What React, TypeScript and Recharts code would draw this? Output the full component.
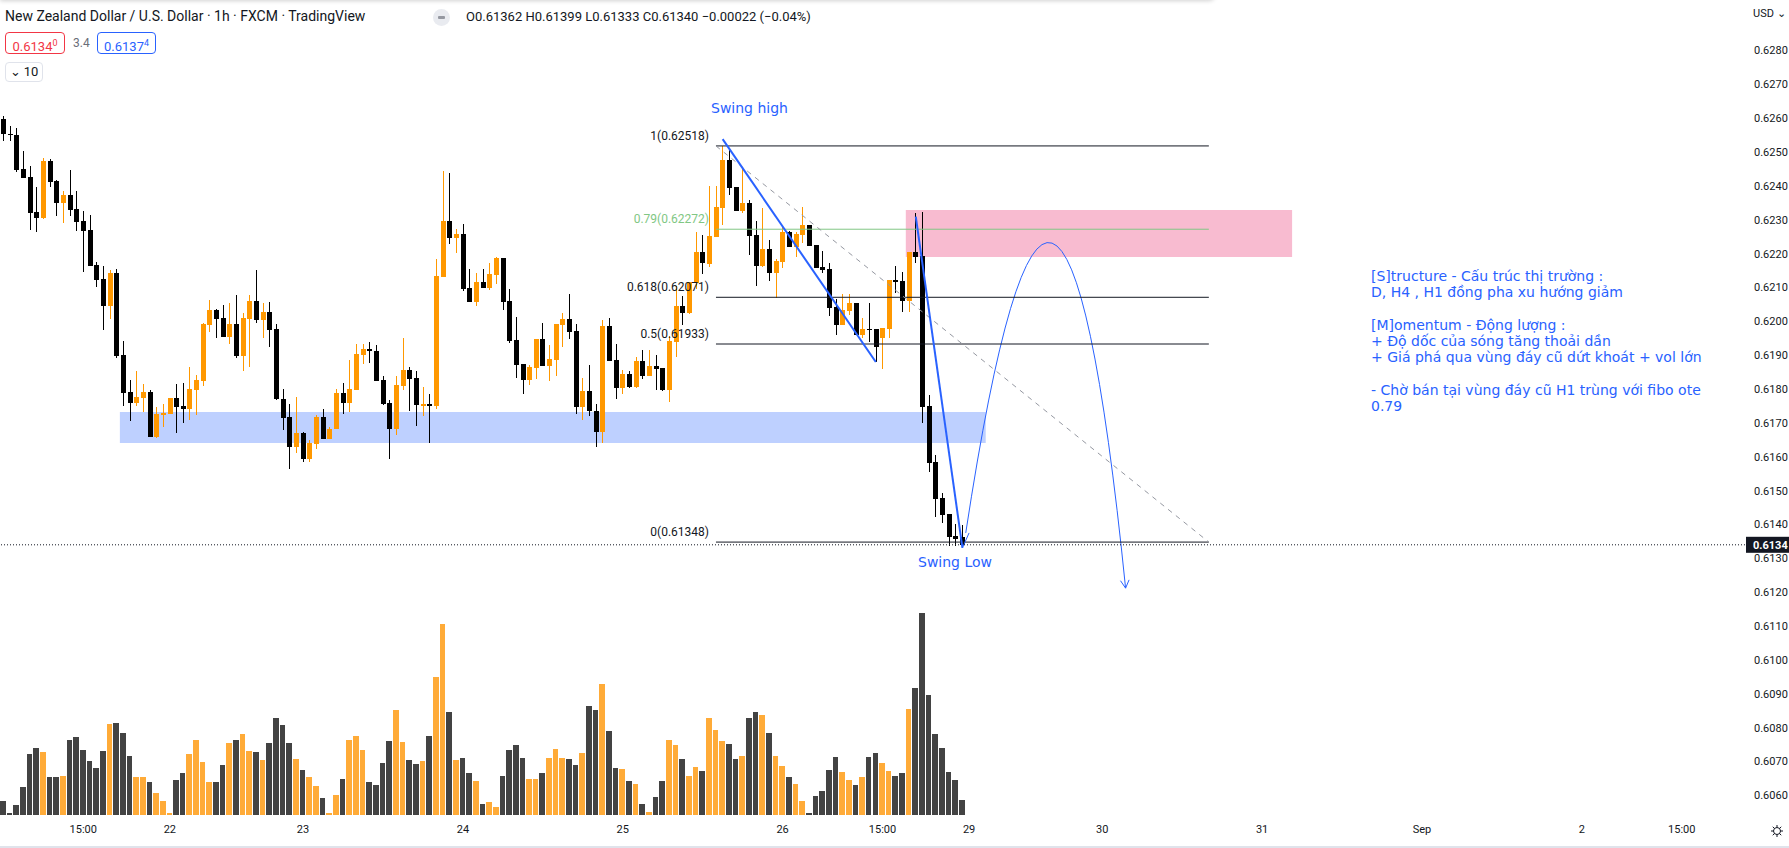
import React from "react";
import {
  ComposedChart,
  Bar,
  XAxis,
  YAxis,
  ReferenceLine,
  ReferenceArea,
} from "recharts";

// NZDUSD 1h candles
const opens = [
  0.62599, 0.62554, 0.62551, 0.62451, 0.62427, 0.62324, 0.62306, 0.62474, 0.62415, 0.6235,
  0.62374, 0.62332, 0.62297, 0.6227, 0.62167, 0.62125, 0.62045, 0.62143, 0.619, 0.61791,
  0.61758, 0.61773, 0.61791, 0.61658, 0.61723, 0.61726, 0.61773, 0.61749, 0.6174, 0.61797,
  0.61823, 0.61989, 0.62033, 0.6201, 0.61953, 0.61992, 0.61897, 0.62007, 0.6206, 0.62004,
  0.62027, 0.61977, 0.6177, 0.61717, 0.61628, 0.61669, 0.61592, 0.61637, 0.61717, 0.61652,
  0.61681, 0.61788, 0.61758, 0.61797, 0.619, 0.61918, 0.61912, 0.61826, 0.61758, 0.61681,
  0.61808, 0.61856, 0.61832, 0.61749, 0.61755, 0.61749, 0.62131, 0.62297, 0.62246, 0.62258,
  0.62099, 0.62057, 0.62116, 0.62099, 0.62137, 0.62187, 0.6206, 0.61945, 0.61874, 0.61826,
  0.61862, 0.61948, 0.61868, 0.61885, 0.61989, 0.62007, 0.61971, 0.61746, 0.61794, 0.61734,
  0.61672, 0.61986, 0.61885, 0.61803, 0.61844, 0.61806, 0.61882, 0.61838, 0.61868, 0.61862,
  0.61797, 0.61939, 0.62045, 0.62024, 0.62113, 0.62205, 0.62169, 0.62249, 0.62335, 0.62477,
  0.62398, 0.62326, 0.6235, 0.62255, 0.62164, 0.62214, 0.62143, 0.62175, 0.62264, 0.6222,
  0.62255, 0.62285, 0.62226, 0.62161, 0.62155, 0.62042, 0.61989, 0.6203, 0.62054, 0.61959,
  0.61977, 0.61977, 0.61951, 0.61977, 0.62122, 0.62119, 0.6206, 0.62205, 0.62193, 0.61749,
  0.61586, 0.61477, 0.6143, 0.61365, 0.61362,
];
const highs = [
  0.62605, 0.62578, 0.62572, 0.62504, 0.6246, 0.62398, 0.62483, 0.6248, 0.62418, 0.62386,
  0.62448, 0.62386, 0.62326, 0.62315, 0.62175, 0.62164, 0.62152, 0.62155, 0.61942, 0.61826,
  0.61853, 0.61814, 0.61797, 0.61746, 0.61755, 0.61773, 0.61814, 0.61817, 0.61865, 0.61841,
  0.61995, 0.62063, 0.62036, 0.62048, 0.62054, 0.62078, 0.62024, 0.62078, 0.62152, 0.62054,
  0.62057, 0.61992, 0.618, 0.61755, 0.61776, 0.61672, 0.61649, 0.61723, 0.6174, 0.61687,
  0.618, 0.61817, 0.61885, 0.61933, 0.61933, 0.61939, 0.6193, 0.61838, 0.61767, 0.61838,
  0.61951, 0.61865, 0.61853, 0.61806, 0.61785, 0.62184, 0.62445, 0.62439, 0.62273, 0.62288,
  0.62155, 0.62143, 0.62155, 0.62172, 0.6219, 0.62187, 0.62096, 0.62013, 0.61874, 0.61871,
  0.61948, 0.61995, 0.6193, 0.61992, 0.62024, 0.62081, 0.61992, 0.61832, 0.61871, 0.61755,
  0.62004, 0.6201, 0.61933, 0.61856, 0.61853, 0.61894, 0.61915, 0.61915, 0.619, 0.61862,
  0.61956, 0.62105, 0.62075, 0.62116, 0.62264, 0.62255, 0.624, 0.624, 0.62518, 0.62507,
  0.62398, 0.62451, 0.62359, 0.62297, 0.62335, 0.62241, 0.62184, 0.62282, 0.62267, 0.62264,
  0.62338, 0.62285, 0.62226, 0.62208, 0.62172, 0.62066, 0.62081, 0.62081, 0.62054, 0.6201,
  0.62054, 0.61977, 0.6198, 0.62122, 0.62164, 0.62146, 0.62205, 0.62321, 0.62324, 0.61782,
  0.61604, 0.61492, 0.6143, 0.614, 0.61399,
];
const lows = [
  0.62534, 0.62534, 0.62442, 0.62424, 0.6227, 0.62264, 0.62303, 0.62398, 0.62312, 0.62291,
  0.62312, 0.62267, 0.62146, 0.62164, 0.62101, 0.61974, 0.62007, 0.61891, 0.61749, 0.61705,
  0.61749, 0.61731, 0.61658, 0.61655, 0.61687, 0.61726, 0.6167, 0.61699, 0.61708, 0.61723,
  0.61808, 0.61968, 0.61951, 0.61953, 0.61933, 0.61891, 0.61853, 0.61865, 0.61995, 0.61951,
  0.61924, 0.61767, 0.61678, 0.61563, 0.6161, 0.61586, 0.61586, 0.61622, 0.61652, 0.61652,
  0.61681, 0.61726, 0.61731, 0.61797, 0.61874, 0.61877, 0.61823, 0.61752, 0.61592, 0.61663,
  0.61797, 0.61734, 0.6169, 0.6172, 0.6164, 0.6174, 0.62131, 0.62229, 0.62202, 0.6209,
  0.62057, 0.62045, 0.62099, 0.62093, 0.6211, 0.62033, 0.61936, 0.61832, 0.61785, 0.61811,
  0.61829, 0.61868, 0.61823, 0.61838, 0.61924, 0.61948, 0.61726, 0.61708, 0.6172, 0.61628,
  0.6164, 0.61882, 0.6177, 0.61785, 0.61803, 0.61803, 0.61829, 0.61838, 0.61797, 0.61794,
  0.61761, 0.61894, 0.61989, 0.62021, 0.62096, 0.6214, 0.62161, 0.62249, 0.62285, 0.62374,
  0.62326, 0.62321, 0.62196, 0.62105, 0.62161, 0.62119, 0.62069, 0.62158, 0.6222, 0.6219,
  0.62232, 0.62223, 0.62158, 0.62143, 0.62016, 0.61959, 0.61989, 0.62019, 0.61959, 0.61951,
  0.61939, 0.61879, 0.61859, 0.61951, 0.62084, 0.62027, 0.62027, 0.62172, 0.61699, 0.61554,
  0.61421, 0.61403, 0.61335, 0.61335, 0.61333,
];
const closes = [
  0.62554, 0.62551, 0.62448, 0.62424, 0.62321, 0.62306, 0.62474, 0.62412, 0.6235, 0.62374,
  0.62329, 0.62294, 0.62267, 0.62164, 0.62122, 0.62045, 0.62143, 0.61897, 0.61788, 0.61758,
  0.61776, 0.61791, 0.61658, 0.61726, 0.61729, 0.61773, 0.61746, 0.6174, 0.618, 0.61826,
  0.61992, 0.62033, 0.62007, 0.61953, 0.61992, 0.61897, 0.6201, 0.6206, 0.62004, 0.62027,
  0.61974, 0.6177, 0.61714, 0.61628, 0.61669, 0.61592, 0.6164, 0.61717, 0.61652, 0.61681,
  0.61788, 0.61758, 0.618, 0.61903, 0.61918, 0.61912, 0.61823, 0.61755, 0.61681, 0.61811,
  0.61856, 0.61829, 0.61752, 0.61755, 0.61749, 0.62134, 0.62297, 0.62246, 0.62258, 0.62096,
  0.62057, 0.62116, 0.62099, 0.6214, 0.62187, 0.62057, 0.61942, 0.61871, 0.61826, 0.61865,
  0.61948, 0.61868, 0.61888, 0.61992, 0.62007, 0.61968, 0.61746, 0.61794, 0.61734, 0.61672,
  0.61986, 0.61882, 0.61803, 0.61844, 0.61806, 0.61882, 0.61838, 0.61868, 0.61859, 0.61797,
  0.61942, 0.62045, 0.62024, 0.62116, 0.62205, 0.62172, 0.62252, 0.62338, 0.62477, 0.62395,
  0.62326, 0.6235, 0.62252, 0.62164, 0.62214, 0.62143, 0.62178, 0.62264, 0.6222, 0.62258,
  0.62285, 0.62223, 0.62158, 0.62152, 0.62039, 0.61989, 0.62033, 0.62054, 0.61959, 0.61977,
  0.61974, 0.61924, 0.6198, 0.62122, 0.62116, 0.6206, 0.62205, 0.6219, 0.61746, 0.61583,
  0.61474, 0.61427, 0.61362, 0.61356, 0.6134,
];
// volume bar heights (same scale as the picture, px of the pane)
const volumes = [
  14, 2, 10, 28, 61, 67, 63, 38, 38, 39, 75, 78, 65, 54, 47, 64, 91, 92, 82, 59,
  38, 38, 33, 22, 14, 2, 35, 42, 61, 75, 53, 33, 33, 50, 72, 75, 81, 64, 63, 55,
  72, 97, 90, 72, 56, 45, 38, 29, 17, 2, 20, 36, 75, 79, 65, 33, 30, 52, 74, 105,
  73, 55, 51, 54, 79, 138, 191, 103, 55, 57, 42, 34, 11, 13, 8, 39, 65, 70, 57, 36,
  36, 42, 57, 66, 57, 56, 50, 62, 109, 105, 131, 84, 47, 46, 34, 31, 11, 3, 18, 34,
  75, 70, 56, 39, 48, 44, 97, 85, 74, 71, 56, 59, 97, 103, 100, 82, 59, 49, 38, 31,
  14, 2, 19, 24, 45, 58, 43, 35, 30, 38, 58, 62, 52, 44, 39, 42, 106, 127, 202, 120,
  81, 67, 43, 35, 15,
];

const slotCount = 262; // candles + empty future space
const tickSlots = [12, 25, 45, 69, 93, 117, 132, 145, 165, 189, 213, 237, 252];
const tickLabels = ["15:00", "22", "23", "24", "25", "26", "15:00", "29", "30", "31", "Sep", "2", "15:00"];
const priceTicks = [
  0.606, 0.607, 0.608, 0.609, 0.61, 0.611, 0.612, 0.613, 0.614, 0.615, 0.616, 0.617,
  0.618, 0.619, 0.62, 0.621, 0.622, 0.623, 0.624, 0.625, 0.626, 0.627, 0.628,
];
const fibLevels = [1, 0.79, 0.618, 0.5, 0];
const fibPrices = [0.62518, 0.62272, 0.62071, 0.61933, 0.61348];

const notes = [
  "[S]tructure - Cấu trúc thị trường :",
  "D, H4 , H1 đồng pha xu hướng giảm",
  "",
  "[M]omentum - Động lượng :",
  "+ Độ dốc của sóng tăng thoải dần",
  "+ Giá phá qua vùng đáy cũ dứt khoát + vol lớn",
  "",
  "- Chờ bán tại vùng đáy cũ H1 trùng với fibo ote",
  "0.79",
];

const W = 1789;
const H = 848;
const BLUE = "#2962FF";
const INK = "#131722";

const rows = Array.from({ length: slotCount }, (_, i) =>
  i < opens.length
    ? { t: i, o: opens[i], h: highs[i], l: lows[i], c: closes[i], v: volumes[i] }
    : { t: i }
);

const lastClose = closes[closes.length - 1];

const CandleShape = (props: any) => {
  const { x, y, width, height, payload } = props;
  if (!payload || payload.h === undefined) return null;
  const { o, h, l, c } = payload;
  const span = h - l;
  const py = (v: number) => (span > 0 ? y + ((h - v) / span) * height : y);
  const color = c >= o ? "#FF9800" : "#000000";
  const bx = Math.round(x);
  const bw = Math.round(width);
  const wx = bx + Math.floor(bw / 2);
  const top = Math.round(py(Math.max(o, c)));
  const bot = Math.round(py(Math.min(o, c)));
  const wt = Math.round(y);
  const wb = Math.round(y + height);
  return (
    <g>
      <rect x={wx} y={wt} width={1} height={Math.max(1, wb - wt)} fill={color} />
      <rect x={bx} y={top} width={bw} height={Math.max(1, bot - top)} fill={color} />
    </g>
  );
};

const VolumeShape = (props: any) => {
  const { x, y, width, height, payload } = props;
  if (!payload || payload.v === undefined) return null;
  const left = Math.round(x);
  const right = Math.round(x + width + 0.66) - 1;
  const top = Math.round(y);
  const bot = Math.round(y + height);
  return (
    <rect
      x={left}
      y={top}
      width={right - left}
      height={Math.max(1, bot - top)}
      fill={payload.c >= payload.o ? "#FFAB38" : "#434343"}
    />
  );
};

const FibLabel = (props: any) => {
  const { viewBox, text, color } = props;
  if (!viewBox) return null;
  return (
    <text x={viewBox.x - 7} y={viewBox.y - 6} textAnchor="end" fontSize={12} fontFamily="Roboto" fill={color}>
      {text}
    </text>
  );
};

const PriceTag = (props: any) => {
  const { viewBox } = props;
  if (!viewBox) return null;
  const xx = viewBox.x + viewBox.width;
  return (
    <g>
      <rect x={xx + 1} y={viewBox.y - 8} width={44} height={16} fill={INK} />
      <text x={xx + 8} y={viewBox.y + 4} fill="#fff" fontSize={11} fontWeight="bold" fontFamily="Roboto">
        {lastClose.toFixed(4)}
      </text>
    </g>
  );
};

// hand-drawn arc projection inside its bounding box
const arcStartFrac = 0.84;
const arcPeakFrac = 0.54;
const ArcShape = (props: any) => {
  const { x, y, width, height } = props;
  const x0 = x;
  const y0 = y + height * arcStartFrac;
  const x2 = x + width;
  const y2 = y + height;
  const xp = x + width * arcPeakFrac;
  const cx = 2 * xp - (x0 + x2) / 2;
  const cy = 2 * y - (y0 + y2) / 2;
  const dx = x2 - cx;
  const dy = y2 - cy;
  const len = Math.sqrt(dx * dx + dy * dy);
  const ux = dx / len;
  const uy = dy / len;
  const a = 0.5;
  const r = 9;
  const ax1 = x2 - r * (ux * Math.cos(a) - uy * Math.sin(a));
  const ay1 = y2 - r * (uy * Math.cos(a) + ux * Math.sin(a));
  const ax2 = x2 - r * (ux * Math.cos(-a) - uy * Math.sin(-a));
  const ay2 = y2 - r * (uy * Math.cos(-a) + ux * Math.sin(-a));
  return (
    <g fill="none" stroke={BLUE} strokeWidth={1}>
      <path d={`M${x0},${y0} Q${cx},${cy} ${x2},${y2}`} />
      <path d={`M${ax1},${ay1} L${x2},${y2} L${ax2},${ay2}`} />
    </g>
  );
};

const Gear = () => (
  <svg width={14} height={14} viewBox="0 0 14 14" style={{ position: "absolute", left: 1770, top: 824 }}>
    <circle cx={7} cy={7} r={3.5} fill="none" stroke={INK} strokeWidth={1} />
    {[0, 45, 90, 135, 180, 225, 270, 315].map((d) => (
      <line
        key={d}
        x1={7 + 3.5 * Math.cos((d * Math.PI) / 180)}
        y1={7 + 3.5 * Math.sin((d * Math.PI) / 180)}
        x2={7 + 6 * Math.cos((d * Math.PI) / 180)}
        y2={7 + 6 * Math.sin((d * Math.PI) / 180)}
        stroke={INK}
        strokeWidth={1}
      />
    ))}
  </svg>
);

const boxStyle: React.CSSProperties = {
  position: "absolute",
  height: 22,
  boxSizing: "border-box",
  borderRadius: 4,
  font: "13px Roboto",
  lineHeight: "20px",
  textAlign: "center",
  background: "#fff",
};

export default function App() {
  return (
    <div style={{ position: "relative", width: W, height: H, background: "#fff", overflow: "hidden", fontFamily: "Roboto" }}>
      <style>{`body{margin:0}`}</style>

      {/* volume pane, same plot box as the price chart */}
      <div style={{ position: "absolute", left: 0, top: 0 }}>
        <ComposedChart width={W} height={H} data={rows} margin={{ top: 0, right: 44, bottom: 33, left: 0 }}>
          <XAxis dataKey="t" hide />
          <YAxis yAxisId="v" hide domain={[0, 815]} />
          <Bar yAxisId="v" dataKey="v" barSize={6} shape={VolumeShape} isAnimationActive={false} />
        </ComposedChart>
      </div>

      <div style={{ position: "absolute", left: 0, top: 0 }}>
        <ComposedChart width={W} height={H} data={rows} margin={{ top: 0, right: 0, bottom: 0, left: 0 }}>
          <XAxis
            dataKey="t"
            ticks={tickSlots}
            interval={0}
            tickFormatter={(v: number) => tickLabels[tickSlots.indexOf(v)] ?? ""}
            tickLine={false}
            axisLine={false}
            height={33}
            tickSize={0}
            tickMargin={10}
            tick={{ fontSize: 11, fill: INK, fontFamily: "Roboto" }}
          />
          <YAxis
            orientation="right"
            width={44}
            domain={[0.60542, 0.62949]}
            allowDataOverflow
            ticks={priceTicks}
            interval={0}
            tickFormatter={(v: number) => v.toFixed(4)}
            tickLine={false}
            axisLine={false}
            tickSize={0}
            tickMargin={9}
            tick={{ fontSize: 11, fill: INK, fontFamily: "Roboto", textAnchor: "start" }}
          />

          <ReferenceArea x1={18} x2={147} y1={0.61641} y2={0.61732} fill={BLUE} fillOpacity={0.3} stroke="none" />

          {fibPrices.map((p, k) => (
            <ReferenceLine
              key={`fib${k}`}
              segment={[
                { x: 107, y: p },
                { x: 181, y: p },
              ]}
              stroke={k === 1 ? "#81C784" : INK}
              strokeWidth={1}
              label={<FibLabel text={`${fibLevels[k]}(${p.toFixed(5)})`} color={k === 1 ? "#81C784" : INK} />}
            />
          ))}

          <ReferenceArea x1={136} x2={193} y1={0.6219} y2={0.62329} fill="#E91E63" fillOpacity={0.3} stroke="none" />

          <ReferenceLine
            segment={[
              { x: 107, y: 0.62518 },
              { x: 181, y: 0.61348 },
            ]}
            stroke="#9598A1"
            strokeDasharray="5 5"
          />

          <ReferenceLine y={lastClose} stroke={INK} strokeDasharray="1 2" label={<PriceTag />} />

          <Bar dataKey={(d: any) => (d.h === undefined ? null : [d.l, d.h])} barSize={5} shape={CandleShape} isAnimationActive={false} />

          <ReferenceLine
            segment={[
              { x: 108, y: 0.62538 },
              { x: 131, y: 0.6188 },
            ]}
            stroke={BLUE}
            strokeWidth={2}
          />
          <ReferenceLine
            segment={[
              { x: 137, y: 0.62309 },
              { x: 144, y: 0.61331 },
            ]}
            stroke={BLUE}
            strokeWidth={2}
          />
          <ReferenceLine
            segment={[
              { x: 144, y: 0.61331 },
              { x: 145, y: 0.61375 },
            ]}
            stroke={BLUE}
            strokeWidth={1}
          />
          <ReferenceArea x1={145} x2={168} y1={0.61212} y2={0.62231} shape={ArcShape} />
        </ComposedChart>
      </div>

      {/* header */}
      <div style={{ position: "absolute", left: 0, top: -10, width: 1215, height: 10, borderBottomRightRadius: 6, boxShadow: "0 1px 4px rgba(0,0,0,0.18)" }} />
      <div style={{ position: "absolute", left: 5, top: 8, font: "14px Roboto", color: INK, whiteSpace: "nowrap" }}>
        New Zealand Dollar / U.S. Dollar · 1h · FXCM · TradingView
      </div>
      <div style={{ position: "absolute", left: 433, top: 9, width: 17, height: 17, borderRadius: 9, background: "#E9EBF0" }}>
        <div style={{ position: "absolute", left: 5, top: 7, width: 7, height: 3, borderRadius: 1, background: "#9598A1" }} />
      </div>
      <div style={{ position: "absolute", left: 466, top: 9, font: "13px Roboto", color: INK, whiteSpace: "nowrap" }}>
        O0.61362 H0.61399 L0.61333 C0.61340 −0.00022 (−0.04%)
      </div>
      <div style={{ ...boxStyle, left: 5, top: 32, width: 60, border: "1px solid #F23645", color: "#F23645" }}>
        0.6134<sup style={{ fontSize: 9 }}>0</sup>
      </div>
      <div style={{ position: "absolute", left: 73, top: 36, font: "12px Roboto", color: "#6A6D78" }}>3.4</div>
      <div style={{ ...boxStyle, left: 97, top: 32, width: 59, border: `1px solid ${BLUE}`, color: BLUE }}>
        0.6137<sup style={{ fontSize: 9 }}>4</sup>
      </div>
      <div style={{ ...boxStyle, left: 5, top: 62, width: 38, height: 20, lineHeight: "18px", border: "1px solid #E0E3EB", color: INK }}>
        ⌄ 10
      </div>

      {/* drawing texts */}
      <div style={{ position: "absolute", left: 711, top: 100, font: "14px 'DejaVu Sans'", color: BLUE, whiteSpace: "nowrap" }}>
        Swing high
      </div>
      <div style={{ position: "absolute", left: 918, top: 554, font: "14px 'DejaVu Sans'", color: BLUE, whiteSpace: "nowrap" }}>
        Swing Low
      </div>
      <div style={{ position: "absolute", left: 1371, top: 268, font: "14px 'DejaVu Sans'", lineHeight: "16.3px", color: BLUE, whiteSpace: "pre" }}>
        {notes.map((n, i) => (
          <div key={i} style={{ height: 16.3 }}>
            {n}
          </div>
        ))}
      </div>

      <div style={{ position: "absolute", left: 1753, top: 7, font: "11px Roboto", color: INK }}>USD ⌄</div>
      <Gear />
      <div style={{ position: "absolute", left: 0, top: 846, width: W, height: 2, background: "#E0E3EB" }} />
    </div>
  );
}
